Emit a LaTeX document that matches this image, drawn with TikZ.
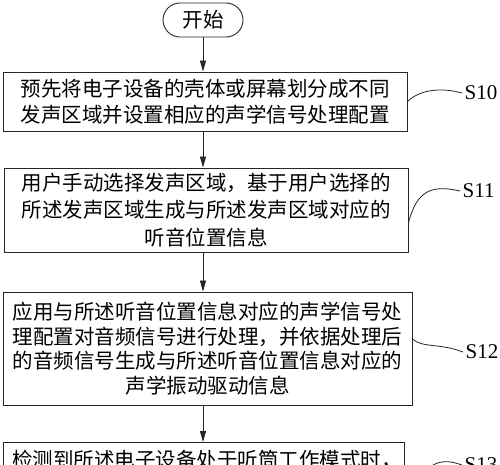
\documentclass[tikz,border=0pt]{standalone}
\usepackage{fontspec}
\setmainfont{Liberation Serif}
\newfontfamily\cjk{Noto Sans CJK SC}
\usetikzlibrary{arrows.meta,shapes.misc}
\begin{document}
\begin{tikzpicture}[x=1pt,y=-1pt,
  box/.style={draw=black!85,line width=0.9pt,rectangle,inner sep=0pt,align=center,
    font=\cjk\fontsize{20.5}{26}\selectfont},
  arr/.style={draw=black!85,line width=0.8pt,-{Triangle[length=11pt,width=6pt]}},
  lbl/.style={anchor=west,inner sep=2.5pt,font=\fontsize{21}{24}\selectfont},
  lead/.style={draw=black!85,line width=0.8pt}]
\useasboundingbox (0,0) rectangle (500,464);
\fill[white] (0,0) rectangle (500,464);
\clip (0,0) rectangle (500,464);
% start
\node[draw=black!85,line width=0.9pt,rounded rectangle,minimum width=80pt,minimum height=34pt,
  inner sep=0pt,font=\cjk\fontsize{20.5}{24}\selectfont] (st) at (203,20) {开始};
% boxes
\node[box,minimum width=404pt,minimum height=59pt] (b1) at (205,101.5)
  {预先将电子设备的壳体或屏幕划分成不同\\发声区域并设置相应的声学信号处理配置};
\node[box,minimum width=404pt,minimum height=84pt,font=\cjk\fontsize{20.5}{27.5}\selectfont] (b2) at (206,210)
  {用户手动选择发声区域，基于用户选择的\\所述发声区域生成与所述发声区域对应的\\听音位置信息};
\node[box,minimum width=409pt,minimum height=113pt,font=\cjk\fontsize{20.5}{24.5}\selectfont] (b3) at (207.5,348.5)
  {应用与所述听音位置信息对应的声学信号处\\理配置对音频信号进行处理，并依据处理后\\的音频信号生成与所述听音位置信息对应的\\声学振动驱动信息};
\node[draw=black!85,line width=0.9pt,rectangle,inner sep=0pt,minimum width=401pt,minimum height=100pt,anchor=north] (b4) at (203.5,442) {};
\node[inner sep=0pt,font=\cjk\fontsize{20.5}{24}\selectfont] (t4) at (207,460) {检测到所述电子设备处于听筒工作模式时，};
% arrows
\draw[arr] (st.south) -- (st.south |- b1.north);
\draw[arr] (st.south |- b1.south) -- (st.south |- b2.north);
\draw[arr] (st.south |- b2.south) -- (st.south |- b3.north);
\draw[arr] (st.south |- b3.south) -- (st.south |- b4.north);
% labels
\node[lbl] (s10) at (462,93) {S10};
\node[lbl] (s11) at (460,191) {S11};
\node[lbl] (s12) at (463,352) {S12};
\node[lbl] (s13) at (462,465) {S13};
\coordinate (c1) at (b1.east);
\coordinate (c2) at ([yshift=-13pt]b2.east);
\coordinate (c3) at ([yshift=9.5pt]b3.east);
\coordinate (c4) at ([yshift=-33pt]b4.east);
\draw[lead] (c1) .. controls (417,92) and (437,86) .. (s10.west);
\draw[lead] (c2) .. controls (417,189) and (433,185) .. (s11.west);
\draw[lead] (c3) .. controls (422,348) and (440,343) .. (s12.west);
\draw[lead] (c4) .. controls (418,462) and (437,456) .. (s13.west);
\end{tikzpicture}
\end{document}
